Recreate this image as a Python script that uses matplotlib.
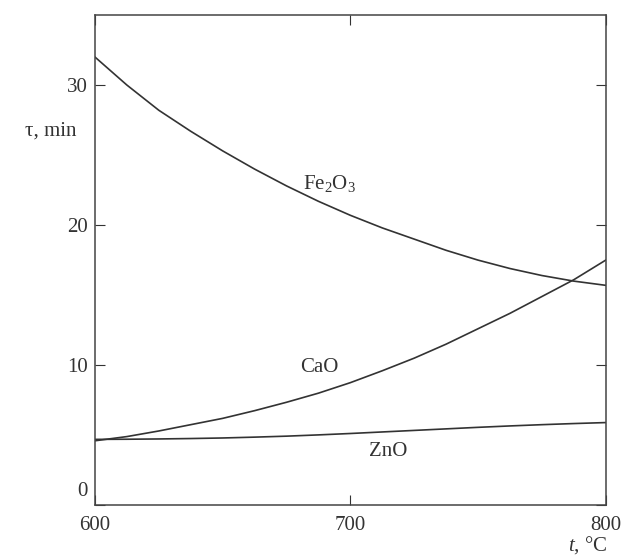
import matplotlib.pyplot as plt
import matplotlib.transforms as mtransforms

plt.rcParams["font.family"] = ["Liberation Serif", "DejaVu Serif"]
plt.rcParams["mathtext.fontset"] = "custom"
plt.rcParams["mathtext.rm"] = "Liberation Serif"
plt.rcParams["mathtext.it"] = "Liberation Serif:italic"

temp = [600, 612.5, 625, 637.5, 650, 662.5, 675, 687.5, 700, 712.5, 725, 737.5, 750, 762.5, 775, 787.5, 800]
fe2o3 = [32.0, 30.0, 28.2, 26.7, 25.3, 24.0, 22.8, 21.7, 20.7, 19.8, 19.0, 18.2, 17.5, 16.9, 16.4, 16.0, 15.7]
cao = [4.6, 4.9, 5.3, 5.75, 6.2, 6.75, 7.35, 8.0, 8.75, 9.6, 10.5, 11.5, 12.6, 13.7, 14.9, 16.1, 17.5]
zno = [4.7, 4.71, 4.73, 4.76, 4.8, 4.86, 4.93, 5.02, 5.12, 5.23, 5.34, 5.45, 5.56, 5.66, 5.75, 5.83, 5.9]

fig = plt.figure(figsize=(6.29, 5.57), dpi=100)
ax = fig.add_axes([0.151, 0.093, 0.812, 0.88])

for serie in (fe2o3, cao, zno):
    ax.plot(temp, serie, color="#333333", lw=1.2)

ax.text(692, 22.6, "Fe$_2$O$_3$", fontsize=15, ha="center", color="#333333")
ax.text(688, 9.5, "CaO", fontsize=15, ha="center", color="#333333")
ax.text(715, 3.5, "ZnO", fontsize=15, ha="center", color="#333333")

ax.set_xlim(600, 800)
ax.set_ylim(0, 35)
ax.set_xticks([600, 700, 800])
ax.set_yticks([0, 10, 20, 30])
ax.tick_params(direction="in", length=7, labelsize=15, colors="#333333",
               top=True, right=True, pad=5)
ax.tick_params(axis="x", pad=8)
for s in ax.spines.values():
    s.set_color("#444444")
    s.set_linewidth(1.1)

# "0" sits slightly above the corner, as in the book figure
fig.canvas.draw()
lbl0 = ax.get_yticklabels()[0]
lbl0.set_transform(lbl0.get_transform() + mtransforms.ScaledTranslation(0, 12 / 72, fig.dpi_scale_trans))

fig.text(0.08, 0.765, "τ, min", fontsize=15, ha="center", va="center", color="#333333")
fig.text(0.935, 0.022, "$t$, °C", fontsize=15, ha="center", va="center", color="#333333")

plt.savefig("out.png", dpi=100)
